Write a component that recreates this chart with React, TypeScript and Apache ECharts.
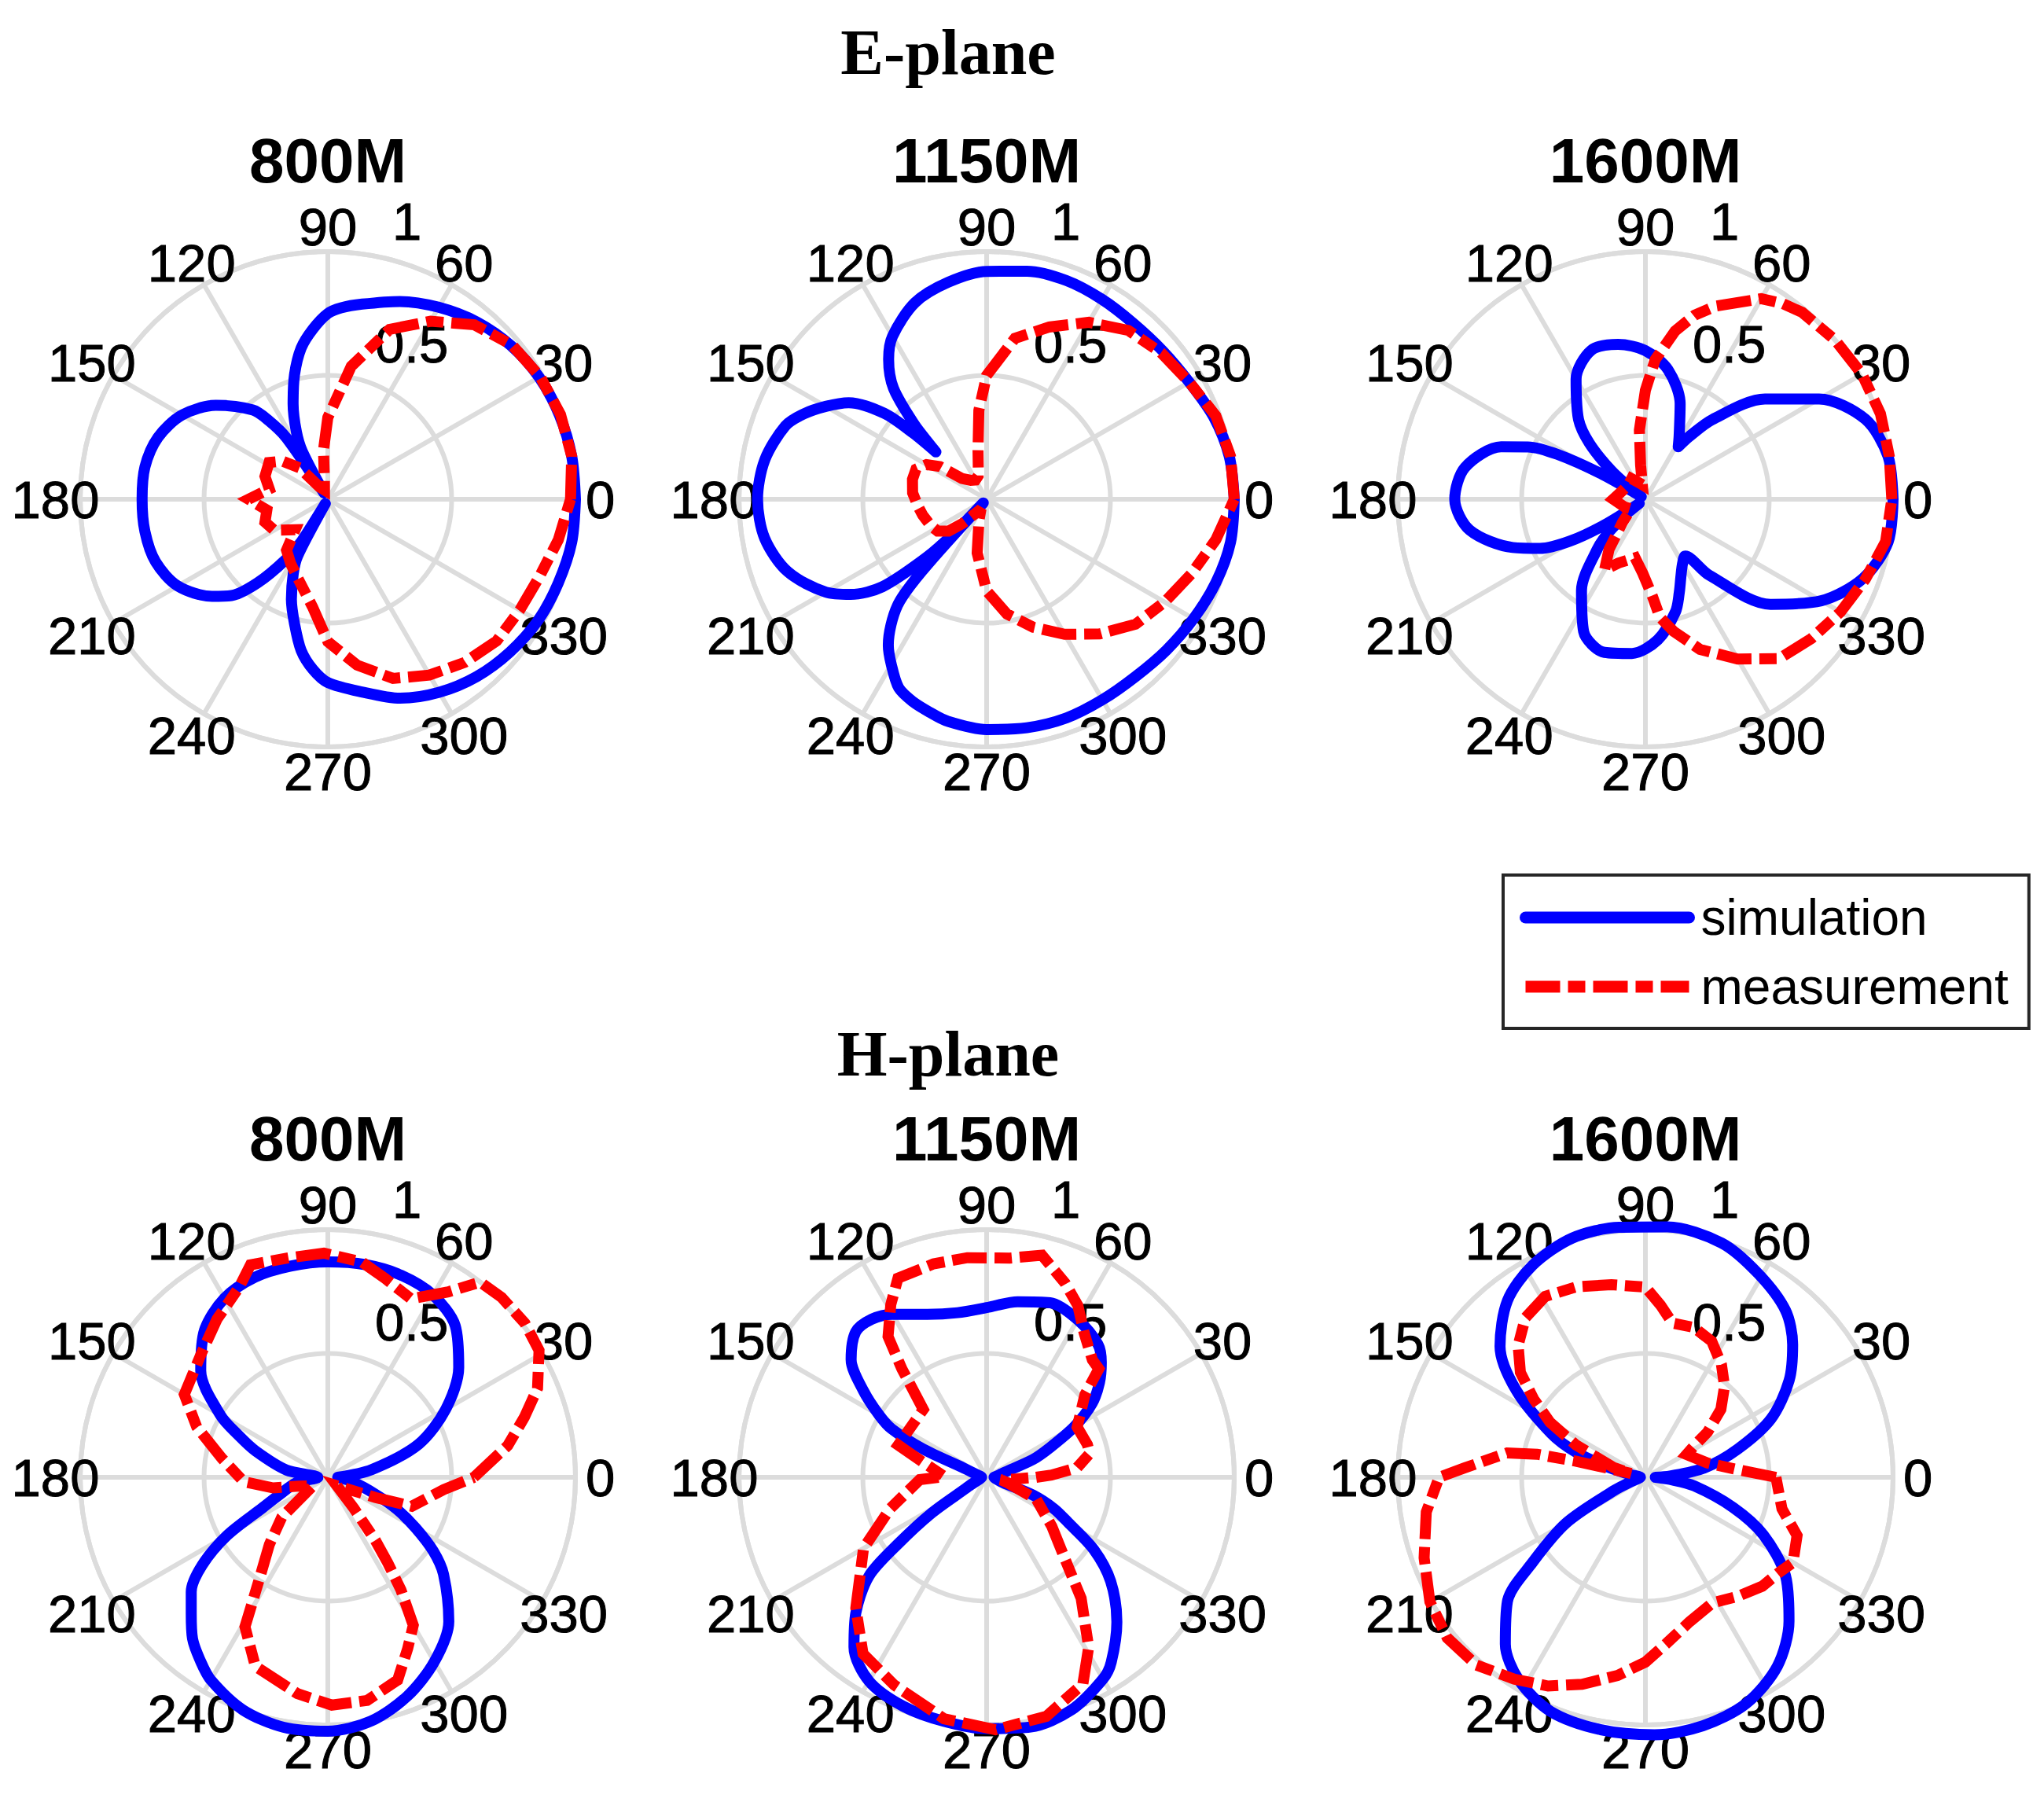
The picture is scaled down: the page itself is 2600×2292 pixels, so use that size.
import React, { useEffect, useRef } from 'react';
import * as echarts from 'echarts';

// ---------- tick labels & names ----------
const ANGLE_TICKS = [0, 30, 60, 90, 120, 150, 180, 210, 240, 270, 300, 330];
const RADIUS_TICKS = [0.5, 1];
const FREQ_TITLES = ['800M', '1150M', '1600M'];
const PLANE_TITLES = ['E-plane', 'H-plane'];
const LEGEND_NAMES = ['simulation', 'measurement'];

// ---------- E-plane 800M ----------
const E800_SIM_ANG = [0,10,20,30,40,50,60,70,80,86,90,95,100,105,110,115,118,121,124,127,130,140,150,160,170,180,190,200,210,220,225,230,235,238,240,242,245,250,255,260,265,270,280,290,300,310,320,330,340,350,360];
const E800_SIM_R = [1.0,1.0,0.995,0.985,0.965,0.935,0.895,0.85,0.80,0.775,0.75,0.69,0.62,0.52,0.41,0.30,0.22,0.03,0.30,0.40,0.47,0.59,0.68,0.73,0.75,0.75,0.75,0.74,0.70,0.61,0.55,0.44,0.30,0.20,0.02,0.26,0.33,0.43,0.52,0.62,0.69,0.74,0.79,0.855,0.90,0.935,0.96,0.98,0.99,1.0,1.0];
const E800_MEAS_ANG = [0,10,20,30,40,50,60,70,80,90,95,100,110,124,132,140,148,160,170,180,190,200,210,223,231,240,249,262,270,280,290,300,310,320,330,340,350,360];
const E800_MEAS_R = [0.98,1.0,1.0,0.99,0.97,0.92,0.83,0.73,0.545,0.33,0.2,0.08,0.04,0.06,0.17,0.24,0.28,0.27,0.24,0.32,0.25,0.27,0.25,0.18,0.265,0.30,0.34,0.44,0.575,0.68,0.77,0.82,0.86,0.89,0.895,0.91,0.945,0.98];

// ---------- E-plane 1150M ----------
const E1150_SIM_ANG = [0,10,20,30,40,50,60,70,80,90,100,110,120,125,130,134,136,137,138,140,145,150,155,160,170,180,190,200,210,215,220,224,226,227.5,228,230,236,240,245,250,255,260,270,280,290,300,310,320,330,340,350,360];
const E1150_SIM_R = [1.0,0.995,0.975,0.945,0.93,0.925,0.932,0.94,0.935,0.92,0.89,0.845,0.76,0.69,0.585,0.42,0.32,0.28,0.40,0.54,0.68,0.75,0.815,0.865,0.91,0.925,0.91,0.855,0.75,0.67,0.55,0.34,0.2,0.02,0.38,0.56,0.71,0.77,0.84,0.87,0.89,0.91,0.93,0.937,0.94,0.935,0.935,0.948,0.965,0.985,1.0,1.0];
const E1150_MEAS_ANG = [0,10,20,30,40,50,60,70,80,90,95,100,105,110,120,130,140,145,150,157,165,175,185,194,205,213,220,225,235,245,250,260,270,280,290,300,310,320,330,340,350,360];
const E1150_MEAS_R = [1.0,1.0,0.985,0.945,0.92,0.89,0.825,0.74,0.66,0.50,0.36,0.2,0.13,0.10,0.09,0.10,0.13,0.23,0.28,0.31,0.31,0.30,0.28,0.266,0.25,0.236,0.20,0.14,0.06,0.06,0.09,0.22,0.37,0.47,0.55,0.63,0.71,0.785,0.83,0.88,0.94,1.0];

// ---------- E-plane 1600M ----------
const E1600_SIM_ANG = [0,10,20,30,40,50,55,58,62,70,80,90,100,110,120,130,135,140,144,147,150,153,156,160,170,180,190,200,205,209,212,214,218,222,226,235,245,255,265,275,285,290,295,300,305,310,320,330,340,350,360];
const E1600_SIM_R = [1.0,0.995,0.945,0.81,0.63,0.42,0.31,0.25,0.29,0.41,0.53,0.60,0.635,0.64,0.56,0.42,0.32,0.18,0.07,0.02,0.2,0.4,0.52,0.62,0.74,0.77,0.72,0.57,0.47,0.35,0.2,0.03,0.1,0.2,0.28,0.45,0.59,0.64,0.625,0.57,0.47,0.40,0.34,0.30,0.28,0.40,0.66,0.82,0.935,0.995,1.0];
const E1600_MEAS_ANG = [0,10,20,30,40,50,55,60,70,75,80,86,90,95,98,102,110,124,140,161,180,200,214,225,234,240,247,260,268,274,277,282,290,300,310,320,330,340,350,360];
const E1600_MEAS_R = [0.995,1.0,1.01,1.01,1.0,0.985,0.965,0.935,0.83,0.77,0.69,0.565,0.44,0.28,0.14,0.06,0.07,0.1,0.09,0.1,0.13,0.09,0.07,0.13,0.25,0.33,0.28,0.24,0.30,0.39,0.48,0.545,0.645,0.745,0.84,0.875,0.91,0.945,0.985,0.995];

// ---------- H-plane 800M ----------
const H800_SIM_ANG = [0,10,20,30,40,50,60,70,80,90,100,110,120,130,140,150,155,160,170,180,190,200,205,210,215,220,225,230,235,240,250,260,270,280,290,300,310,320,325,330,335,340,350,360];
const H800_SIM_R = [0.04,0.18,0.39,0.55,0.69,0.80,0.85,0.868,0.872,0.87,0.866,0.86,0.835,0.775,0.67,0.50,0.395,0.31,0.17,0.04,0.13,0.21,0.29,0.47,0.62,0.72,0.78,0.85,0.90,0.945,1.0,1.025,1.025,1.0,0.94,0.86,0.76,0.61,0.52,0.41,0.31,0.21,0.10,0.04];
const H800_MEAS_ANG = [0,10,17,23,31,38,46,52,57,65,74,81,91,100,110,115,125,136,150,159,170,183,191,197,210,221,229,235,239,241,249,262,271,280,289,295,300,303,305,307,310,317,337,341,354,360];
const H800_MEAS_R = [0.59,0.738,0.83,0.92,0.995,1.01,1.01,1.0,0.893,0.795,0.836,0.88,0.905,0.90,0.913,0.847,0.78,0.713,0.669,0.567,0.433,0.34,0.225,0.122,0.07,0.247,0.36,0.468,0.594,0.69,0.817,0.882,0.92,0.915,0.866,0.763,0.69,0.542,0.423,0.319,0.165,0.05,0.209,0.359,0.471,0.59];

// ---------- H-plane 1150M ----------
const H1150_SIM_ANG = [0,10,15,21,25,30,35,40,45,50,60,70,80,90,100,110,120,126,132,139,145,150,153,156,158,165,180,195,205,208,213,217,220,226,232,240,250,260,270,280,290,300,304,312,320,326,331,335,339,342,350,360];
const H1150_SIM_R = [0.03,0.05,0.07,0.2,0.28,0.41,0.52,0.595,0.655,0.70,0.735,0.75,0.72,0.685,0.675,0.70,0.76,0.789,0.79,0.725,0.606,0.50,0.43,0.28,0.1,0.04,0.02,0.03,0.07,0.094,0.263,0.45,0.62,0.76,0.87,0.95,0.984,1.0,1.015,1.024,1.0,0.94,0.9,0.786,0.654,0.522,0.376,0.30,0.2,0.07,0.04,0.03];
const H1150_MEAS_ANG = [0,2,6,13,18,29,40,44,48,56,62,68,76,84,95,104,114,119,125,128,133,160,167,179,182,198,210,225,235,246,260,272,284,295,301,308,314,323,336,345,350,357,360];
const H1150_MEAS_R = [0.2,0.262,0.367,0.427,0.428,0.418,0.518,0.63,0.638,0.704,0.785,0.846,0.924,0.89,0.89,0.888,0.88,0.798,0.694,0.556,0.375,0.38,0.26,0.17,0.27,0.41,0.574,0.747,0.87,0.918,0.99,1.02,0.995,0.92,0.80,0.62,0.453,0.33,0.22,0.09,0.06,0.124,0.2];

// ---------- H-plane 1600M ----------
const H1600_SIM_ANG = [0,3,9,17,25,34,42,50,61,72,85,96,107,118,128,138,146,155,160,165,170,180,190,197,203,210,217,222,230,238,248,260,272,283,294,305,315,325,334,341,350,355,360];
const H1600_SIM_R = [0.04,0.1,0.24,0.39,0.56,0.70,0.80,0.88,0.94,0.995,1.015,1.015,1.01,0.97,0.905,0.79,0.63,0.42,0.3,0.15,0.06,0.02,0.03,0.06,0.14,0.37,0.57,0.75,0.88,0.965,1.02,1.035,1.04,1.03,1.0,0.93,0.82,0.69,0.53,0.375,0.2,0.1,0.04];
const H1600_MEAS_ANG = [0,4,13,20,29,33,36,42,49,56,64,72,80,85,90,100,110,119,127,134,140,145,150,155,163,165,167,168,170,177,180,189,200,210,219,228,237,245,253,262,270,277,287,298,308,317,325,330,339,347,360];
const H1600_MEAS_R = [0.527,0.39,0.257,0.22,0.19,0.238,0.31,0.41,0.487,0.549,0.611,0.636,0.632,0.698,0.768,0.79,0.818,0.835,0.806,0.74,0.659,0.551,0.445,0.31,0.133,0.06,0.29,0.447,0.567,0.73,0.833,0.896,0.951,1.005,1.03,1.02,0.972,0.93,0.874,0.808,0.746,0.678,0.61,0.575,0.609,0.645,0.664,0.688,0.656,0.566,0.527];

const PANELS = [
  { simA: E800_SIM_ANG, simR: E800_SIM_R, measA: E800_MEAS_ANG, measR: E800_MEAS_R },
  { simA: E1150_SIM_ANG, simR: E1150_SIM_R, measA: E1150_MEAS_ANG, measR: E1150_MEAS_R },
  { simA: E1600_SIM_ANG, simR: E1600_SIM_R, measA: E1600_MEAS_ANG, measR: E1600_MEAS_R },
  { simA: H800_SIM_ANG, simR: H800_SIM_R, measA: H800_MEAS_ANG, measR: H800_MEAS_R },
  { simA: H1150_SIM_ANG, simR: H1150_SIM_R, measA: H1150_MEAS_ANG, measR: H1150_MEAS_R },
  { simA: H1600_SIM_ANG, simR: H1600_SIM_R, measA: H1600_MEAS_ANG, measR: H1600_MEAS_R },
];

// ---------- layout / style ----------
const COL_X = [417, 1255, 2093];
const ROW_Y = [635, 1879];
const RADIUS = 315;
// data polar extends a little beyond r = 1 so that lobes above 1 are not cut
const DATA_MAX = 1.08;
const GRID = '#dcdcdc';
const SANS = '"Liberation Sans", Arial, sans-serif';
const SERIF = '"Liberation Serif", "Times New Roman", serif';
const BLUE = '#0000ff';
const RED = '#ff0000';
const DASH_DOT = [44, 10, 22, 10];
const TICK_FONT = 67;

function pts(a: number[], r: number[]) {
  return a.map((ang, k) => [r[k], ang]);
}

function hiddenAxes(i: number, max: number) {
  return {
    angle: {
      polarIndex: i, type: 'value', min: 0, max: 360, startAngle: 0, clockwise: false,
      axisLine: { show: false }, axisTick: { show: false }, axisLabel: { show: false }, splitLine: { show: false },
    },
    radius: {
      polarIndex: i, type: 'value', min: 0, max,
      axisLine: { show: false }, axisTick: { show: false }, axisLabel: { show: false }, splitLine: { show: false },
    },
  };
}

function buildOption() {
  const polar: any[] = [];
  const angleAxis: any[] = [];
  const radiusAxis: any[] = [];
  const series: any[] = [];
  const n = PANELS.length;

  // grid polars (0..n-1)
  PANELS.forEach((_, i) => {
    const cx = COL_X[i % 3];
    const cy = ROW_Y[Math.floor(i / 3)];
    polar.push({ center: [cx, cy], radius: RADIUS });
    angleAxis.push({
      polarIndex: i, type: 'value', min: 0, max: 360, interval: 30,
      startAngle: 0, clockwise: false, z: 0,
      axisLine: { show: true, lineStyle: { color: GRID, width: 6 } },
      axisTick: { show: false }, axisLabel: { show: false },
      splitLine: { show: true, lineStyle: { color: GRID, width: 6 } },
    });
    radiusAxis.push({
      polarIndex: i, type: 'value', min: 0, max: 1, interval: 0.5, z: 0,
      axisLine: { show: false }, axisTick: { show: false }, axisLabel: { show: false },
      splitLine: { show: true, lineStyle: { color: GRID, width: 6 } },
    });
    const labelBase = {
      show: true, position: 'inside', color: '#000000', fontSize: TICK_FONT, fontFamily: SANS,
      textBorderColor: '#000000', textBorderWidth: 1, fontWeight: 'normal', opacity: 1,
    };
    // angle tick labels (centred at 1.1 R)
    series.push({
      type: 'scatter', coordinateSystem: 'polar', polarIndex: i, z: 1, silent: true, clip: false,
      symbolSize: 1, itemStyle: { color: 'rgba(255,255,255,0)' },
      data: ANGLE_TICKS.map((a) => [1.1, a]),
      label: { ...labelBase, formatter: (q: any) => String(ANGLE_TICKS[q.dataIndex]) },
      emphasis: { disabled: true },
    });
    // radius tick labels at 82 deg
    series.push({
      type: 'scatter', coordinateSystem: 'polar', polarIndex: i, z: 1, silent: true, clip: false,
      symbolSize: 1, itemStyle: { color: 'rgba(255,255,255,0)' },
      data: RADIUS_TICKS.map((r) => [r + 0.025, 82]),
      label: {
        ...labelBase, align: 'left', verticalAlign: 'bottom', offset: [37, 0],
        formatter: (q: any) => String(RADIUS_TICKS[q.dataIndex]),
      },
      emphasis: { disabled: true },
    });
  });

  // data polars (n..2n-1), same centres, radius scaled so r=1 lands on the grid ring
  PANELS.forEach((p, i) => {
    const k = n + i;
    const cx = COL_X[i % 3];
    const cy = ROW_Y[Math.floor(i / 3)];
    polar.push({ center: [cx, cy], radius: RADIUS * DATA_MAX });
    const ax = hiddenAxes(k, DATA_MAX);
    angleAxis.push(ax.angle);
    radiusAxis.push(ax.radius);
    series.push({
      type: 'line', name: LEGEND_NAMES[0], coordinateSystem: 'polar', polarIndex: k, z: 3,
      data: pts(p.simA, p.simR), symbol: 'none', smooth: 0.3, clip: false, silent: true,
      lineStyle: { color: BLUE, width: 14, join: 'round', cap: 'round' }, itemStyle: { color: BLUE },
    });
    series.push({
      type: 'line', name: LEGEND_NAMES[1], coordinateSystem: 'polar', polarIndex: k, z: 4,
      data: pts(p.measA, p.measR), symbol: 'none', smooth: false, clip: false, silent: true,
      lineStyle: { color: RED, width: 14, type: DASH_DOT, cap: 'butt', join: 'miter' }, itemStyle: { color: RED },
    });
  });

  const graphic: any[] = [];
  PLANE_TITLES.forEach((t, r) => {
    graphic.push({
      type: 'text', x: 1206, y: r === 0 ? 66 : 1340, z: 10,
      style: { text: t, fill: '#000', font: `bold 82px ${SERIF}`, align: 'center', verticalAlign: 'middle' },
    });
    FREQ_TITLES.forEach((f, c) => {
      graphic.push({
        type: 'text', x: COL_X[c], y: r === 0 ? 204 : 1448, z: 10,
        style: { text: f, fill: '#000', font: `bold 80px ${SANS}`, align: 'center', verticalAlign: 'middle' },
      });
    });
  });

  return {
    animation: false,
    backgroundColor: '#ffffff',
    polar, angleAxis, radiusAxis, series, graphic,
    legend: {
      data: LEGEND_NAMES, orient: 'vertical', left: 1912, top: 1113,
      itemWidth: 208, itemHeight: 15, itemGap: 24, padding: [22, 26, 21, 21],
      borderColor: '#262626', borderWidth: 4, backgroundColor: '#ffffff', borderRadius: 0,
      selectedMode: false,
      lineStyle: { width: 15 },
      textStyle: { fontSize: 64, color: '#000', fontFamily: SANS, padding: [0, 0, 0, 10] },
    },
  };
}

export default function App() {
  const ref = useRef<HTMLDivElement>(null);
  useEffect(() => {
    const chart = echarts.init(ref.current!, null, { renderer: 'svg' });
    chart.setOption(buildOption() as any);
    return () => chart.dispose();
  }, []);
  return (
    <div
      ref={ref}
      style={{ position: 'absolute', left: 0, top: 0, width: 2600, height: 2292, background: '#fff' }}
    />
  );
}
